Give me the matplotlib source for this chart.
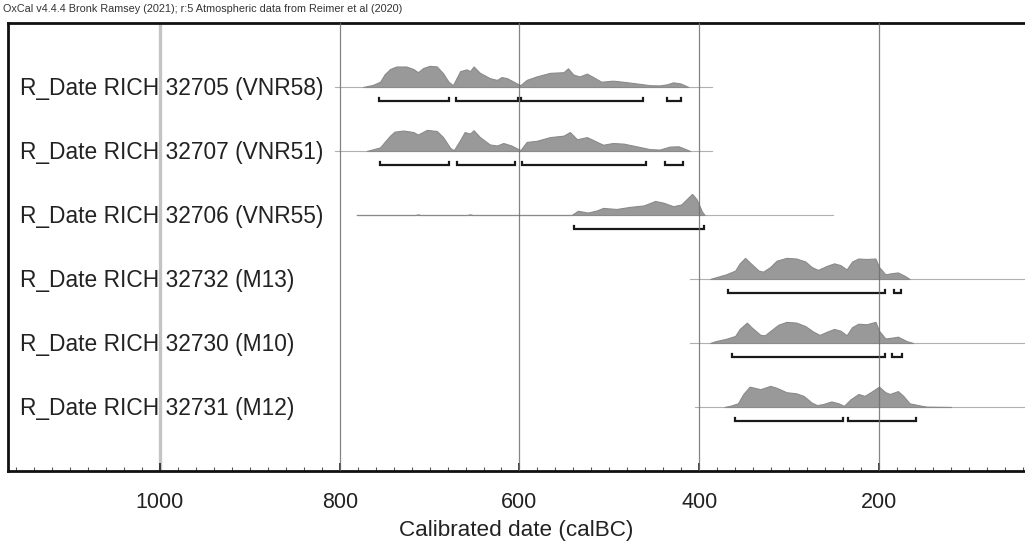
import numpy as np
import matplotlib
matplotlib.use("Agg")
import matplotlib.pyplot as plt
import matplotlib.transforms as mtransforms

plt.rcParams['font.family'] = ['Liberation Sans', 'DejaVu Sans']

TITLE = "OxCal v4.4.4 Bronk Ramsey (2021); r:5 Atmospheric data from Reimer et al (2020)"
labels = ["R_Date RICH 32705 (VNR58)", "R_Date RICH 32707 (VNR51)", "R_Date RICH 32706 (VNR55)",
          "R_Date RICH 32732 (M13)", "R_Date RICH 32730 (M10)", "R_Date RICH 32731 (M12)"]

# calibrated probability curves (year calBC, relative probability)
r1_years = [774, 763, 755, 750, 744, 737, 726, 718, 713, 707, 700, 692, 685, 679, 674,
            666, 659, 655, 651, 644, 633, 625, 620, 614, 603, 599, 592, 581, 566, 551,
            546, 540, 533, 525, 518, 509, 496, 485, 470, 455, 444, 436, 429, 421, 412]
r1_prob = [0, 2, 5, 12, 17, 19.4, 19.4, 17, 14, 18, 20, 19.5, 13, 5, 1.7,
           15, 16.7, 15, 19.4, 13.4, 8.4, 6.7, 9.4, 8.4, 3.4, 1.7, 6.7, 10, 13.4, 14,
           17.7, 11.7, 10, 12.7, 9.4, 5, 6, 5, 3.4, 1.7, 1.5, 2.5, 4.4, 3.4, 0]

r2_years = [770, 755, 750, 744, 739, 729, 718, 713, 703, 692, 685, 677, 673, 666, 661,
            655, 651, 644, 633, 625, 618, 609, 599, 592, 581, 566, 551, 544, 536, 525,
            518, 507, 496, 484, 470, 455, 444, 433, 423, 410]
r2_prob = [0, 3.3, 8.3, 14, 17.7, 18.7, 17.3, 15, 19.3, 18.3, 12.7, 2.7, 0.7, 10, 17.3,
           16, 19, 12.7, 6, 5, 7.3, 5, 0.7, 8.3, 9.3, 12.7, 14, 17.3, 10.7, 12.7,
           10, 5.7, 7.3, 6.7, 4.3, 1.7, 1.3, 4, 4.3, 0]

r3_years = [781, 716, 713, 710, 658, 655, 652, 542, 535, 524, 514, 507, 492, 477, 462,
            449, 440, 429, 420, 408, 403, 397, 394]
r3_prob = [0, 0, 0.6, 0, 0, 0.6, 0, 0, 4, 2.3, 4.3, 6.7, 5.7, 7.7, 9,
           13.3, 11.7, 8.3, 10, 20, 15, 3.3, 0]

r4_years = [388, 370, 360, 355, 349, 344, 334, 329, 321, 314, 303, 292, 282, 275, 268,
            258, 250, 243, 236, 230, 223, 214, 204, 200, 193, 186, 179, 171, 166]
r4_prob = [0, 4.3, 7.7, 14.3, 19.3, 15.3, 7.7, 6.7, 11, 16.7, 19.3, 18.7, 16, 11, 8.3,
           12, 14.3, 12.7, 8.7, 16, 18.7, 18.3, 18.7, 11, 4.3, 5.3, 6, 2.7, 0]

r5_years = [388, 382, 370, 360, 355, 347, 342, 332, 327, 319, 312, 303, 292, 282, 273,
            266, 258, 250, 243, 236, 230, 223, 214, 204, 200, 193, 186, 179, 169, 162]
r5_prob = [0, 1.7, 4, 6.7, 13.3, 19.3, 15, 7.7, 7.3, 12.7, 17.3, 20, 19.3, 16, 10.7,
           7.7, 10.7, 13.3, 11.7, 7.3, 15, 18.3, 17.7, 20, 11.7, 4.3, 5, 6, 1.7, 0]

r6_years = [372, 366, 357, 351, 344, 332, 321, 314, 303, 292, 284, 275, 269, 262, 253,
            245, 239, 232, 223, 216, 208, 200, 193, 188, 179, 173, 166, 154, 147, 120]
r6_prob = [0, 1, 3.3, 11.7, 18.3, 16, 19, 17.3, 13.3, 12.3, 10, 4, 1.7, 2.7, 5,
           3.3, 1, 6.7, 11.7, 10, 14, 18.3, 13.3, 11.7, 14.3, 10, 3.3, 1.3, 0.3, 0]

# 95.4% ranges (start, end) calBC
r1_ranges = [(756, 678), (671, 602), (598, 463), (436, 420)]
r2_ranges = [(755, 678), (670, 605), (597, 459), (438, 418)]
r3_ranges = [(539, 395)]
r4_ranges = [(368, 193), (183, 176)]
r5_ranges = [(364, 193), (186, 174)]
r6_ranges = [(360, 240), (234, 159)]

# extent of each calibration line
line_spans = [(805, 386), (805, 386), (781, 251), (410, 0), (410, 0), (405, 0)]

curves = [(r1_years, r1_prob), (r2_years, r2_prob), (r3_years, r3_prob),
          (r4_years, r4_prob), (r5_years, r5_prob), (r6_years, r6_prob)]
ranges = [r1_ranges, r2_ranges, r3_ranges, r4_ranges, r5_ranges, r6_ranges]

major_ticks = [1000, 800, 600, 400, 200]

W, H = 1025, 542
fig = plt.figure(figsize=(W / 100, H / 100), dpi=100)
ax = fig.add_axes([8 / W, 1 - 471 / H, (W - 8) / W, (471 - 23) / H])
ax.set_xlim(1169, 37.6)
ax.set_ylim(6, -1)

PEAK = 0.33
for i, (yrs, p) in enumerate(curves):
    yrs = np.array(yrs, float)
    p = np.array(p, float)
    h = p / p.max() * PEAK
    a, b = line_spans[i]
    ax.plot([a, b], [i, i], color='#b0b0b0', lw=0.8, zorder=2)
    ax.fill_between(yrs, i, i - h, facecolor='#999999', edgecolor='#8a8a8a', lw=0.8, zorder=3)
    yb = i + 0.22
    for s, e in ranges[i]:
        ax.plot([s, s, e, e], [yb - 0.05, yb, yb, yb - 0.05], color='#1a1a1a', lw=1.6,
                solid_joinstyle='miter', zorder=4)

# grid lines
ax.axvline(1000, color='#c4c4c4', lw=2.4, zorder=1)
for t in major_ticks[1:]:
    ax.axvline(t, color='#6e6e6e', lw=0.9, zorder=5, alpha=0.85)

trans = mtransforms.blended_transform_factory(ax.transAxes, ax.transData)
for i, lab in enumerate(labels):
    ax.text(12 / (W - 8), i + 0.03, lab, transform=trans, ha='left', va='center',
            fontsize=16.4, color='#222222', zorder=6)

ax.set_yticks([])
ax.set_xticks(major_ticks)
ax.set_xticks(np.arange(40, 1170, 20), minor=True)
ax.tick_params(axis='x', which='major', direction='in', length=6, width=1.2,
               color='#222222', labelsize=15.5, labelcolor='#222222', pad=15)
ax.tick_params(axis='x', which='minor', direction='in', length=3, width=0.8, color='#555555')
ax.set_xlabel("Calibrated date (calBC)", fontsize=16.2, color='#222222', labelpad=5.5)

for side in ['left', 'top', 'bottom']:
    ax.spines[side].set_linewidth(2.0)
    ax.spines[side].set_color('#111111')
ax.spines['right'].set_visible(False)

fig.text(3 / W, 1 - 9 / H, TITLE, fontsize=7.85, color='#333333', ha='left', va='center')

fig.savefig("out.png", dpi=100)
